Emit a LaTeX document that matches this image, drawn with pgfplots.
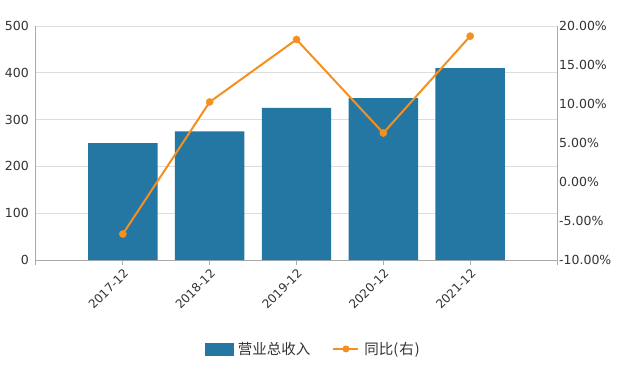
\documentclass[border=0pt]{standalone}
\usepackage{pgfplots}
\pgfplotsset{compat=1.18}
\usepackage{fontspec}
\setmainfont{DejaVu Sans}
\newfontfamily\cjk{Noto Sans CJK SC}
\definecolor{barblue}{HTML}{2477A2}
\definecolor{lineorange}{HTML}{F5901F}
\definecolor{gridgray}{HTML}{DDDDDD}
\definecolor{axisgray}{HTML}{AAAAAA}
\definecolor{txt}{HTML}{333333}
\begin{document}
\begin{tikzpicture}[x=1pt,y=1pt]
\useasboundingbox (0,0) rectangle (627,365);
\begin{axis}[
  at={(36pt,105pt)}, anchor=south west,
  scale only axis, width=521pt, height=234pt,
  xmin=-1, xmax=5, ymin=0, ymax=500,
  axis x line*=bottom, axis y line*=left,
  axis line style={axisgray, line width=1pt},
  xtick={-1,0,1,2,3,4,5},
  xticklabels={,2017-12,2018-12,2019-12,2020-12,2021-12,},
  x tick label style={rotate=45, anchor=north east, font=\fontsize{12}{14}\selectfont, text=txt, inner sep=2pt},
  xtick style={axisgray, line width=1pt},
  major tick length=5pt, tick align=outside,
  ytick={0,100,200,300,400,500},
  yticklabels={0,100,200,300,400,500},
  ytick style={draw=none},
  y tick label style={font=\fontsize{12.5}{14}\selectfont, text=txt, inner sep=2pt},
  ymajorgrids, grid style={gridgray, line width=1pt},
  ybar, bar width=0.8,
]
\addplot[fill=barblue, draw=none] coordinates {(0,250) (1,274.6) (2,325) (3,346) (4,410)};
\end{axis}
\begin{axis}[
  at={(36pt,105pt)}, anchor=south west,
  scale only axis, width=521pt, height=234pt,
  xmin=-1, xmax=5, ymin=-10, ymax=20,
  axis x line=none, axis y line*=right,
  axis line style={axisgray, line width=1pt},
  ytick={-10,-5,0,5,10,15,20},
  yticklabels={-10.00\%,-5.00\%,0.00\%,5.00\%,10.00\%,15.00\%,20.00\%},
  ytick style={draw=none},
  y tick label style={font=\fontsize{12.5}{14}\selectfont, text=txt, inner sep=2pt},
  legend style={at={(0.532,-0.38)}, anchor=center, draw=none, fill=none,
    legend columns=2, font=\cjk\fontsize{14.5}{16}\selectfont, text=txt,
    /tikz/every odd column/.append style={column sep=3pt},
    /tikz/every even column/.append style={column sep=20pt}},
  legend cell align=left,
]
\addlegendimage{legend image code/.code={\fill[barblue] (0pt,-6pt) rectangle (28pt,6pt);}}
\addlegendentry{营业总收入}
\addplot[lineorange, line width=2pt, line join=round, mark=*, mark size=3.6pt,
  mark options={solid, fill=lineorange, draw=lineorange, line width=0.4pt},
  legend image code/.code={\draw[lineorange, line width=2pt] (0pt,0pt) -- (25pt,0pt); \fill[lineorange] (12.5pt,0pt) circle (2.5pt);}]
  coordinates {(0,-6.67) (1,10.26) (2,18.27) (3,6.28) (4,18.7)};
\addlegendentry{同比(\kern1pt右\kern1pt)}
\end{axis}
\end{tikzpicture}
\end{document}
